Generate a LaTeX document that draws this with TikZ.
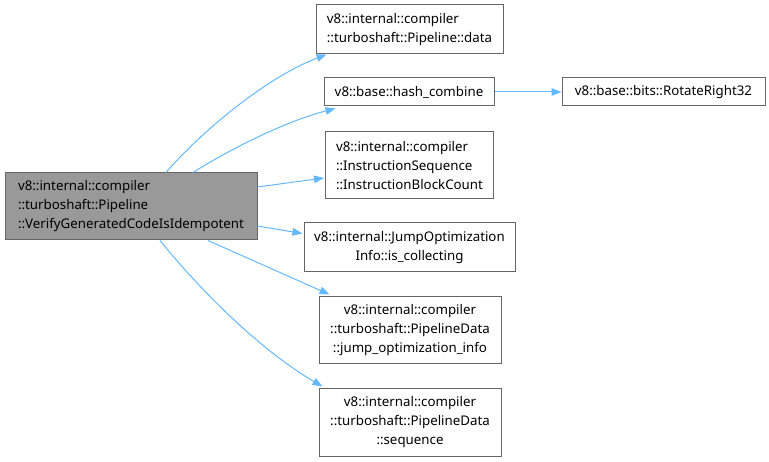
\documentclass[tikz,border=0pt]{standalone}
\usepackage{fontspec}
\setmainfont{Noto Sans}
\usetikzlibrary{arrows.meta}
\definecolor{edgeblue}{HTML}{63B8FF}
\definecolor{boxborder}{HTML}{666666}
\definecolor{mainfill}{HTML}{999999}
\begin{document}
\begin{tikzpicture}[x=1pt,y=-1pt,
  box/.style={draw=boxborder,line width=1pt,fill=white,inner sep=0pt,
    font=\fontsize{13.3}{19}\selectfont,text=black},
  mainbox/.style={box,fill=mainfill},
  edge/.style={draw=edgeblue,line width=1pt,-{Triangle[length=10pt,width=7.5pt]}}]
\useasboundingbox (0,0) rectangle (769,462);
\node[mainbox,minimum width=252pt,minimum height=67pt,align=left] (main) at (131,206.5)
  {v8::internal::compiler\\::turboshaft::Pipeline\\::VerifyGeneratedCodeIsIdempotent};
\node[box,minimum width=187pt,minimum height=49pt,align=left] (data) at (409.5,29.5)
  {v8::internal::compiler\\::turboshaft::Pipeline::data};
\node[box,minimum width=170pt,minimum height=28pt] (hash) at (409,92)
  {v8::base::hash\_combine};
\node[box,minimum width=203pt,minimum height=28pt] (rot) at (663.5,92)
  {v8::base::bits::RotateRight32};
\node[box,minimum width=168pt,minimum height=67pt,align=left] (instr) at (409.5,165.5)
  {v8::internal::compiler\\::InstructionSequence\\::InstructionBlockCount};
\node[box,minimum width=211pt,minimum height=49pt,align=center] (jump) at (409.5,247.5)
  {v8::internal::JumpOptimization\\Info::is\_collecting};
\node[box,minimum width=182pt,minimum height=67pt,align=center] (joi) at (410,330.5)
  {v8::internal::compiler\\::turboshaft::PipelineData\\::jump\_optimization\_info};
\node[box,minimum width=182pt,minimum height=67pt,align=center] (seq) at (410,422.5)
  {v8::internal::compiler\\::turboshaft::PipelineData\\::sequence};
\draw[edge] ([xshift=35pt]main.north) .. controls (200,133) and (265,78) .. ([xshift=11pt]data.south west);
\draw[edge] ([xshift=62pt]main.north) .. controls (235,146) and (290,120) .. ([xshift=12pt,yshift=-2pt]hash.south west);
\draw[edge] ([yshift=19.5pt]main.east) -- ([xshift=-1pt,yshift=-12.5pt]instr.west);
\draw[edge] ([yshift=-19.5pt]main.east) -- ([xshift=-1pt,yshift=14pt]jump.west);
\draw[edge] ([xshift=77pt]main.south) -- ([xshift=11pt,yshift=2pt]joi.north west);
\draw[edge] ([xshift=29pt]main.south) .. controls (200,290) and (260,350) .. ([xshift=4pt,yshift=2pt]seq.north west);
\draw[edge] (hash.east) -- (rot.west);
\end{tikzpicture}
\end{document}
